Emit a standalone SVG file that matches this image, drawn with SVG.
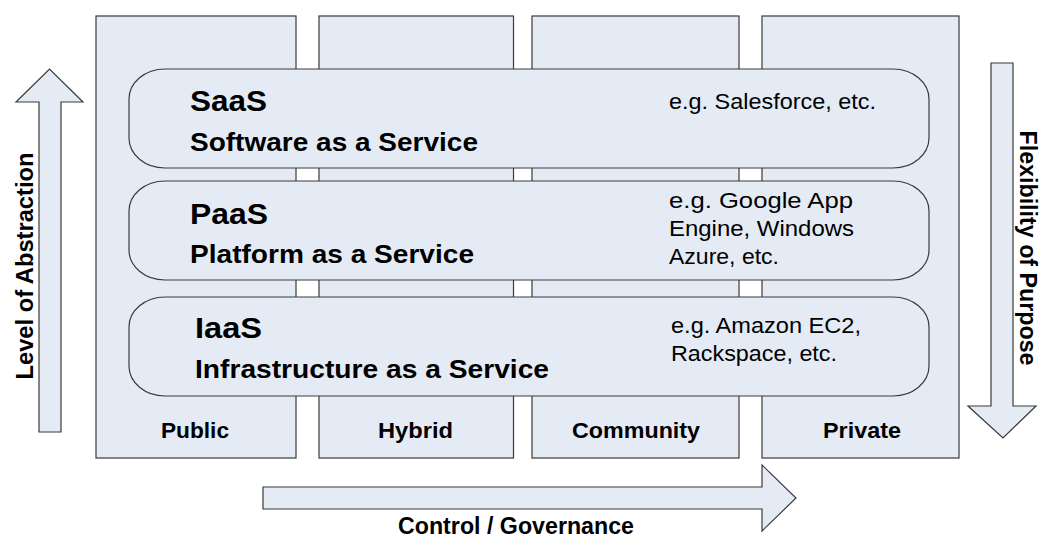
<svg xmlns="http://www.w3.org/2000/svg" width="1045" height="539" viewBox="0 0 1045 539">
  <style>
    .box { fill: #e5ebf5; stroke: #3a3a3a; stroke-width: 1.2; }
    .arrow { fill: #e5ebf5; stroke: #3a3a3a; stroke-width: 1.2; stroke-linejoin: miter; }
    .t { font-family: "Liberation Sans", Arial, sans-serif; fill: #000; }
    .h { font-weight: bold; font-size: 30px; }
    .sub { font-weight: bold; font-size: 25px; }
    .col { font-weight: bold; font-size: 22px; }
    .eg { font-size: 22px; }
    .ax { font-weight: bold; font-size: 23px; }
  </style>

  <!-- deployment model columns -->
  <g id="col-public">
    <rect class="box" x="96" y="16" width="200" height="442"/>
    <text class="t col" x="161" y="438" textLength="68" lengthAdjust="spacingAndGlyphs">Public</text>
  </g>
  <g id="col-hybrid">
    <rect class="box" x="319" y="16" width="194.5" height="442"/>
    <text class="t col" x="378" y="438" textLength="75" lengthAdjust="spacingAndGlyphs">Hybrid</text>
  </g>
  <g id="col-community">
    <rect class="box" x="532" y="16" width="207" height="442"/>
    <text class="t col" x="572" y="438" textLength="128" lengthAdjust="spacingAndGlyphs">Community</text>
  </g>
  <g id="col-private">
    <rect class="box" x="762" y="16" width="197" height="442"/>
    <text class="t col" x="823" y="438" textLength="78" lengthAdjust="spacingAndGlyphs">Private</text>
  </g>

  <!-- service model layers -->
  <g id="layer-saas">
    <rect class="box" x="129" y="69" width="800" height="99" rx="36" ry="30"/>
    <text class="t h" x="190" y="111" textLength="77" lengthAdjust="spacingAndGlyphs">SaaS</text>
    <text class="t sub" x="190" y="151" textLength="288" lengthAdjust="spacingAndGlyphs">Software as a Service</text>
    <text class="t eg" x="669" y="109" textLength="207" lengthAdjust="spacingAndGlyphs">e.g. Salesforce, etc.</text>
  </g>
  <g id="layer-paas">
    <rect class="box" x="129" y="181" width="800" height="99" rx="36" ry="30"/>
    <text class="t h" x="190" y="224" textLength="78" lengthAdjust="spacingAndGlyphs">PaaS</text>
    <text class="t sub" x="190" y="263" textLength="284" lengthAdjust="spacingAndGlyphs">Platform as a Service</text>
    <text class="t eg" x="669" y="208" textLength="184" lengthAdjust="spacingAndGlyphs">e.g. Google App</text>
    <text class="t eg" x="669" y="236" textLength="185" lengthAdjust="spacingAndGlyphs">Engine, Windows</text>
    <text class="t eg" x="669" y="264" textLength="110" lengthAdjust="spacingAndGlyphs">Azure, etc.</text>
  </g>
  <g id="layer-iaas">
    <rect class="box" x="129" y="297" width="800" height="99" rx="36" ry="30"/>
    <text class="t h" x="195" y="338" textLength="67" lengthAdjust="spacingAndGlyphs">IaaS</text>
    <text class="t sub" x="195" y="378" textLength="354" lengthAdjust="spacingAndGlyphs">Infrastructure as a Service</text>
    <text class="t eg" x="671" y="333" textLength="190" lengthAdjust="spacingAndGlyphs">e.g. Amazon EC2,</text>
    <text class="t eg" x="671" y="361" textLength="166" lengthAdjust="spacingAndGlyphs">Rackspace, etc.</text>
  </g>

  <!-- axis arrows -->
  <g id="connectors">
    <g id="axis-abstraction">
      <polygon class="arrow" points="39,432 39,102 16,102 49.5,69 83,102 61,102 61,432"/>
      <text class="t ax" transform="translate(33,266) rotate(-90)" text-anchor="middle" textLength="227" lengthAdjust="spacingAndGlyphs">Level of Abstraction</text>
    </g>
    <g id="axis-flexibility">
      <polygon class="arrow" points="991,63 1013,63 1013,406 1036,406 1003,438 968,406 991,406"/>
      <text class="t ax" transform="translate(1020,248) rotate(90)" text-anchor="middle" textLength="235" lengthAdjust="spacingAndGlyphs">Flexibility of Purpose</text>
    </g>
    <g id="axis-control">
      <polygon class="arrow" points="263,487 762,487 762,465 796,498 762,531 762,509 263,509"/>
      <text class="t ax" x="516" y="534" text-anchor="middle" textLength="236" lengthAdjust="spacingAndGlyphs">Control / Governance</text>
    </g>
  </g>
</svg>
